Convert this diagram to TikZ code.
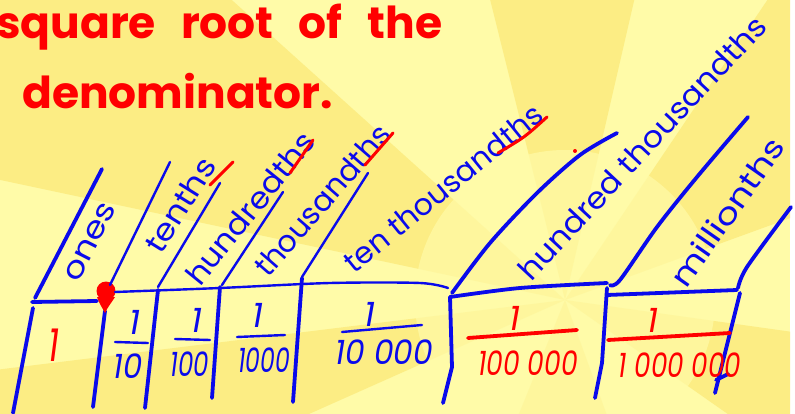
\documentclass[tikz,border=0pt]{standalone}
\usepackage{fontspec}
\setmainfont{Poppins}
\usepackage{xcolor}
\usepackage{graphicx}
\definecolor{penblue}{RGB}{10,10,235}
\definecolor{penred}{RGB}{255,0,0}
\definecolor{sunlight}{RGB}{255,251,168}
\definecolor{sundark}{RGB}{252,237,132}
\tikzset{
  pen/.style={penblue, line width=3.8pt, line cap=round, line join=round},
  thinpen/.style={penblue, line width=2.4pt, line cap=round, line join=round},
  redpen/.style={penred, line width=3.8pt, line cap=round, line join=round},
  hand/.style={penblue, font=\fontsize{30}{32}\selectfont, inner sep=0pt},
  digits/.style={font=\itshape\fontsize{34}{36}\selectfont, inner sep=0pt},
  headline/.style={penred, font=\bfseries\fontsize{44}{48}\selectfont, inner sep=0pt, anchor=base west},
}
\newcommand{\stretchx}[2]{\scalebox{#1}[1]{#2}}
\newcommand{\gap}{\hspace{25pt}}
\begin{document}
\begin{tikzpicture}[x=1pt,y=-1pt]
  \useasboundingbox (0,0) rectangle (795,414);
  % sunburst background
  \fill[white] (0,0) rectangle (795,414);
  \begin{scope}
    \clip (0,0) rectangle (790,414);
    \fill[sunlight] (0,0) rectangle (790,414);
    \foreach \a/\b in {138/168, 77/104, 20/56, -35/-8, -112/-70, 187/204} {
      \fill[sundark] (565,300) -- +(-\a:1500) -- +(-\b:1500) -- cycle;
    }
    \fill[sunlight, opacity=0.7] (565,300) circle (150);
  \end{scope}

  % title
  \node[headline] (title1) at (-4,39) {square\gap root\gap of\gap the};
  \node[headline] (title2) at (22,109) {denominator.};

  % ones column
  \draw[pen] (32,302) -- (97,301);
  \draw[pen] (35,298) -- (102,169);
  \draw[pen] (33,308) -- (13,413);
  \draw[pen] (105,311) -- (93,407);
  \fill[penred] (106,291) circle (9.5);
  \fill[penred] (97,297) .. controls (100,305) and (103,309) .. (105,313)
    .. controls (107,308) and (112,302) .. (115,297) -- cycle;

  % decimal columns
  \draw[thinpen] (110,285) -- (170,162);
  \draw[thinpen] plot[smooth] coordinates {(115,292) (220,288) (330,283) (420,283) (448,288)};
  \draw[thinpen] (158,287) -- (220,183);
  \draw[thinpen] (222,285) -- (283,192);
  \draw[thinpen] (302,277) -- (368,173);
  \draw[pen] (158,290) -- (145,408);
  \draw[pen] (220,287) -- (212,398);
  \draw[pen] (302,278) -- (293,402);
  \draw[pen] (450,297) -- (452,367) -- (443,403);
  \draw[pen] (607,288) -- (602,363) -- (595,398);
  \draw[pen] (740,293) -- (715,393);
  \draw[pen] (716,380) -- (728,374);
  \draw[pen] plot[smooth] coordinates {(452,293) (490,243) (537,193) (580,155) (617,133)};
  \draw[pen] plot[smooth] coordinates {(610,285) (620,280) (657,227) (697,177) (748,117)};
  \draw[pen] plot[smooth] coordinates {(738,288) (747,267) (791,207)};
  \draw[pen] plot[smooth] coordinates {(450,297) (520,288) (607,283)};
  \draw[pen] (607,295) -- (737,290);

  % place names
  \node[hand, rotate=63] (ones) at (90,242) {\stretchx{1.17}{ones}};
  \node[hand, rotate=58] (tenths) at (180,205) {\stretchx{1.12}{tenths}};
  \node[hand, rotate=51] (hundredths) at (250,208) {\stretchx{1.07}{hundredths}};
  \node[hand, rotate=49] (thousandths) at (322,200) {thousandths};
  \node[hand, rotate=39] (tenthou) at (443,188) {ten thousandths};
  \node[hand, rotate=47] (hundthou) at (642,148) {\stretchx{1.07}{hundred thousandths}};
  \node[hand, rotate=55] (millionths) at (727,212) {\stretchx{1.2}{millionths}};
  \draw[redpen, line width=3pt] (210,185) -- (233,162);
  \draw[redpen, line width=3pt] (290,173) -- (313,140);
  \draw[redpen, line width=3pt] (365,165) -- (393,133);
  \draw[redpen, line width=3pt] (498,153) .. controls (525,137) .. (547,117);
  \fill[penred] (575,151) circle (2);

  % place values
  \node[digits, penred] (v1) at (54,345) {\scalebox{1}[1.35]{1}};
  \node[digits, penblue] (n2) at (135,322) {1};
  \draw[thinpen] (115,342) -- (148,343);
  \node[digits, penblue] (d2) at (128,366) {\stretchx{0.9}{10}};
  \node[digits, penblue] (n3) at (197,320) {1};
  \draw[thinpen] (175,339) -- (210,340);
  \node[digits, penblue] (d3) at (190,364) {\stretchx{0.72}{100}};
  \node[digits, penblue] (n4) at (258,315) {1};
  \draw[thinpen] (237,337) -- (285,335);
  \node[digits, penblue] (d4) at (264,360) {\stretchx{0.69}{1000}};
  \node[digits, penblue] (n5) at (370,314) {1};
  \draw[thinpen] (342,332) -- (422,325);
  \node[digits, penblue] (d5) at (384,352) {\stretchx{0.92}{10 000}};
  \node[digits, penred] (n6) at (515,318) {1};
  \draw[redpen] (468,338) -- (577,330);
  \node[digits, penred] (d6) at (528,363) {\stretchx{0.78}{100 000}};
  \node[digits, penred] (n7) at (653,320) {1};
  \draw[redpen] (608,340) -- (730,333);
  \node[digits, penred] (d7) at (680,365) {\stretchx{0.77}{1 000 000}};
\end{tikzpicture}
\end{document}
